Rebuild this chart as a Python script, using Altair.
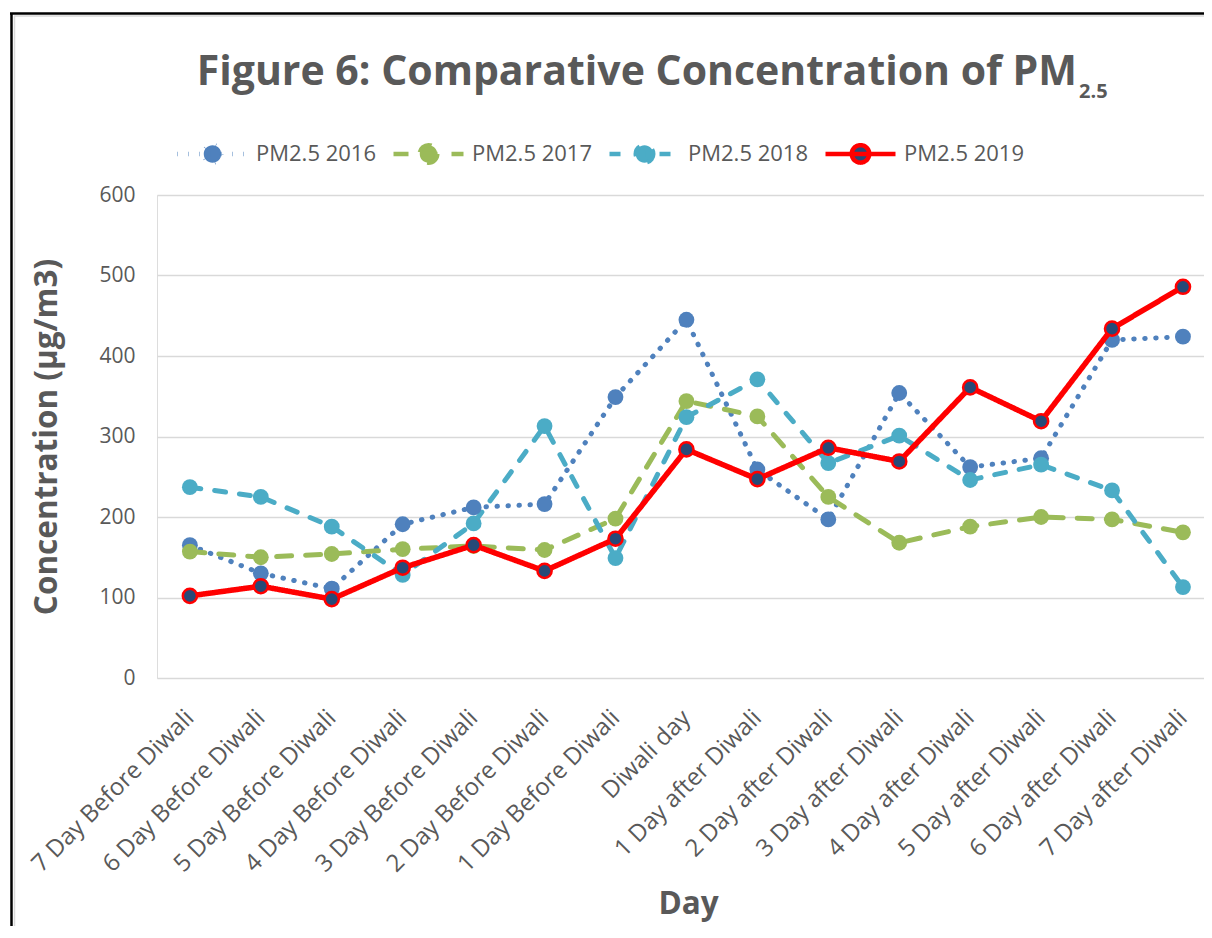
import altair as alt
import pandas as pd

# ---------------- data ----------------
days = [
    "7 Day Before Diwali", "6 Day Before Diwali", "5 Day Before Diwali",
    "4 Day Before Diwali", "3 Day Before Diwali", "2 Day Before Diwali",
    "1 Day Before Diwali", "Diwali day", "1 Day after Diwali",
    "2 Day after Diwali", "3 Day after Diwali", "4 Day after Diwali",
    "5 Day after Diwali", "6 Day after Diwali", "7 Day after Diwali",
]
series = ["PM2.5 2016", "PM2.5 2017", "PM2.5 2018", "PM2.5 2019"]

pm_2016 = [165, 130, 111, 191, 212, 216, 349, 445, 259, 197, 354, 262, 273, 420, 424]
pm_2017 = [157, 150, 154, 160, 164, 159, 198, 344, 325, 225, 168, 188, 200, 197, 181]
pm_2018 = [237, 225, 188, 128, 192, 313, 149, 324, 371, 267, 301, 246, 265, 233, 113]
pm_2019 = [102, 114, 98, 137, 165, 133, 173, 284, 247, 286, 269, 361, 319, 434, 486]

y_ticks = [0, 100, 200, 300, 400, 500, 600]

# ---------------- styles ----------------
line_colors = ["#4F81BD", "#9BBB59", "#4BACC6", "#FF0000"]
marker_fills = ["#4F81BD", "#9BBB59", "#4BACC6", "#264A78"]
dashes = [[0.5, 10.5], [15, 14], [11, 14], [1, 0]]
TEXT = "#595959"
FONT = "Open Sans"

rows = []
for name, vals in zip(series, [pm_2016, pm_2017, pm_2018, pm_2019]):
    for i, (d, v) in enumerate(zip(days, vals)):
        rows.append({"series": name, "day": d, "idx": i, "value": v})
df = pd.DataFrame(rows)

LEG_PATH = ("M-1,0L1,0"
            "M0.25,0A0.25,0.25,0,1,1,-0.25,0A0.25,0.25,0,1,1,0.25,0Z")

legend = alt.Legend(
    title=None, orient="none", legendX=18, legendY=-79, direction="horizontal",
    symbolType=LEG_PATH, symbolSize=4900, symbolStrokeWidth=4.5,
    symbolOpacity=1, labelFont=FONT, labelFontSize=22, labelColor=TEXT,
    labelOffset=6, columnPadding=8,
)

x_enc = alt.X(
    "day:O", sort=days,
    scale=alt.Scale(type="point", padding=0.38, align=0.61),
    axis=alt.Axis(
        title="Day", labelAngle=-45, labelAlign="right", labelBaseline="middle",
        labelPadding=36, labelFont=FONT, labelFontSize=24, labelColor=TEXT,
        labelLimit=400, domain=False, ticks=False, grid=False, labelOverlap=False,
        titleFont=FONT, titleFontSize=31.5, titleFontWeight="bold", titleColor=TEXT,
        titleX=531, titleY=235, titleBaseline="alphabetic", titleAlign="center",
    ),
)
y_enc = alt.Y(
    "value:Q",
    scale=alt.Scale(domain=[0, 600], nice=False),
    axis=alt.Axis(
        title="Concentration (μg/m3)", values=y_ticks, grid=True,
        gridColor="#D9D9D9", gridWidth=1.5, domain=False, ticks=False,
        labelPadding=22, labelFont=FONT, labelFontSize=21, labelColor=TEXT,
        titleFont=FONT, titleFontSize=31.5, titleFontWeight="bold", titleColor=TEXT,
        titleAngle=-90, titleX=-101, titleY=241.5, titleAlign="center",
        titleBaseline="alphabetic",
    ),
)
color_enc = alt.Color("series:N", scale=alt.Scale(domain=series, range=line_colors), legend=legend)
dash_enc = alt.StrokeDash("series:N", scale=alt.Scale(domain=series, range=dashes), legend=legend)
fill_enc = alt.Fill("series:N", scale=alt.Scale(domain=series, range=marker_fills), legend=legend)

base = alt.Chart(df)
is19 = alt.datum.series == "PM2.5 2019"

lines_a = base.transform_filter(~is19).mark_line(
    strokeWidth=5, strokeCap="round", strokeJoin="round"
).encode(x=x_enc, y=y_enc, color=color_enc, strokeDash=dash_enc, order="idx:Q")

points_a = base.transform_filter(~is19).mark_point(
    filled=True, size=250, opacity=1, strokeWidth=0, shape="circle"
).encode(x=x_enc, y=y_enc, fill=fill_enc)

line_b = base.transform_filter(is19).mark_line(
    strokeWidth=5.5, strokeCap="round", strokeJoin="round"
).encode(x=x_enc, y=y_enc, color=color_enc, strokeDash=dash_enc, order="idx:Q")

points_b = base.transform_filter(is19).mark_point(
    filled=True, size=200, opacity=1, stroke="#FF0000", strokeWidth=2.5, shape="circle"
).encode(x=x_enc, y=y_enc, fill=fill_enc)

one = pd.DataFrame({"t": ["Figure 6: Comparative Concentration of PM"]})
title_main = alt.Chart(one).mark_text(
    font=FONT, fontSize=41, fontWeight="bold", color=TEXT, align="right",
    baseline="alphabetic"
).encode(x=alt.value(920), y=alt.value(-110), text="t:N")
title_sub = alt.Chart(pd.DataFrame({"t": ["2.5"]})).mark_text(
    font=FONT, fontSize=20, fontWeight="bold", color=TEXT, align="left",
    baseline="alphabetic"
).encode(x=alt.value(922), y=alt.value(-97), text="t:N")

frame = pd.DataFrame({"k": [0]})
border_left = alt.Chart(frame).mark_rule(color="#000000", strokeWidth=2.5).encode(
    x=alt.value(-145.5), y=alt.value(-182), y2=alt.value(740))
border_top = alt.Chart(frame).mark_rule(color="#000000", strokeWidth=2.5).encode(
    y=alt.value(-181.5), x=alt.value(-147), x2=alt.value(1060))
inner_left = alt.Chart(frame).mark_rule(color="#D9D9D9", strokeWidth=1.5).encode(
    x=alt.value(-142.5), y=alt.value(-179), y2=alt.value(740))
inner_top = alt.Chart(frame).mark_rule(color="#D9D9D9", strokeWidth=1.5).encode(
    y=alt.value(-179), x=alt.value(-143), x2=alt.value(1060))

chart = alt.layer(
    lines_a, points_a, line_b, points_b, title_main, title_sub,
    border_left, border_top, inner_left, inner_top,
).properties(
    width=1047, height=483,
    autosize=alt.AutoSizeParams(type="none"),
    padding={"left": 149, "top": 187, "right": 0, "bottom": 248},
).configure_view(stroke="transparent").configure(background="white")

chart.save("out.html", embed_options={"renderer": "svg", "actions": False})
